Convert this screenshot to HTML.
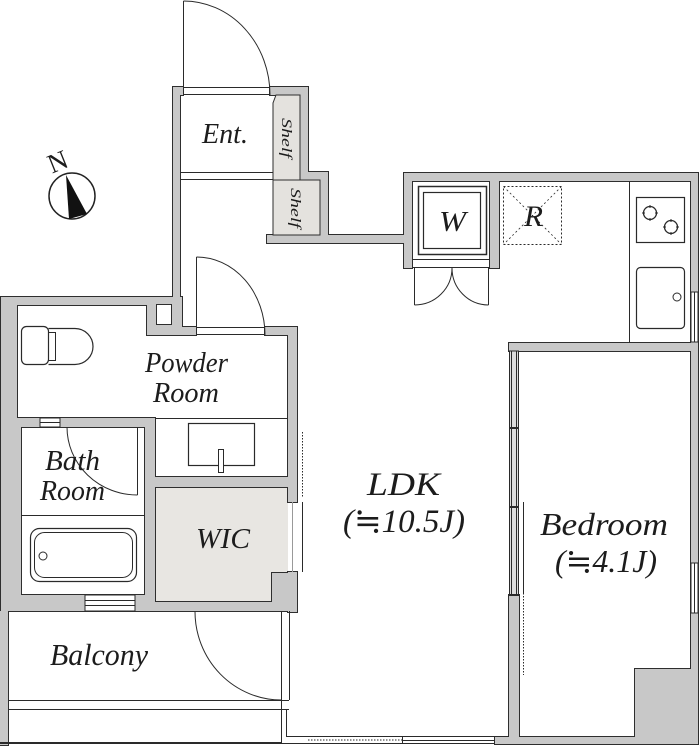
<!DOCTYPE html>
<html><head><meta charset="utf-8"><style>
html,body{margin:0;padding:0;background:#fff;}
svg{display:block;}
.t{font-family:"Liberation Serif","DejaVu Serif",serif;font-style:italic;fill:#1c1c1c;}
.n{font-family:"Liberation Serif","DejaVu Serif",serif;fill:#1c1c1c;}
</style></head><body>
<svg width="700" height="755" viewBox="0 0 700 755" xmlns="http://www.w3.org/2000/svg">
<defs>
<g id="w">
<rect x="173" y="87" width="10" height="8"/>
<rect x="270" y="87" width="38" height="8"/>
<rect x="173" y="87" width="7" height="218"/>
<rect x="300" y="87" width="8" height="93"/>
<rect x="300" y="172" width="28" height="8"/>
<rect x="320" y="172" width="8" height="71"/>
<rect x="267" y="235" width="145" height="8"/>
<rect x="404" y="173" width="8" height="95"/>
<rect x="490" y="173" width="9" height="95"/>
<rect x="404" y="173" width="294" height="8"/>
<rect x="691" y="173" width="7" height="571"/>
<rect x="509" y="343" width="189" height="8"/>
<rect x="509" y="595" width="10" height="149"/>
<rect x="495" y="737" width="203" height="7"/>
<rect x="635" y="669" width="63" height="75"/>
<rect x="1" y="297" width="179" height="8"/>
<rect x="147" y="297" width="35" height="38"/>
<rect x="147" y="327" width="49" height="8"/>
<rect x="265" y="327" width="32" height="8"/>
<rect x="288" y="327" width="9" height="175"/>
<rect x="288" y="572" width="9" height="40"/>
<rect x="1" y="297" width="16" height="314"/>
<rect x="1" y="418" width="20" height="193"/>
<rect x="1" y="418" width="154" height="9"/>
<rect x="145" y="418" width="10" height="193"/>
<rect x="145" y="477" width="152" height="10"/>
<rect x="145" y="602" width="152" height="9"/>
<rect x="272" y="573" width="25" height="38"/>
<rect x="1" y="595" width="154" height="16"/>
<rect x="0" y="611" width="8" height="134"/>
</g>
</defs>

<!-- room fills -->
<polygon points="155,487 288,487 288,573 272,573 272,602 155,602" fill="#e8e6e2"/>

<!-- walls -->
<use href="#w" fill="none" stroke="#2e2e2e" stroke-width="2"/>
<use href="#w" fill="#c8c8c8"/>

<!-- shelves -->
<polygon points="276,95 300,95 300,180 273,180 273,103" fill="#e4e2de" stroke="#2e2e2e" stroke-width="1"/>
<rect x="273" y="180" width="47" height="55" fill="#e4e2de" stroke="#2e2e2e" stroke-width="1"/>

<!-- shaft hole -->
<rect x="156.5" y="304.5" width="15" height="20" fill="#fff" stroke="#2e2e2e" stroke-width="1"/>

<g stroke="#2a2a2a" stroke-width="1" fill="none">
<!-- Ent door -->
<line x1="183" y1="87.5" x2="270" y2="87.5"/>
<line x1="183" y1="94.5" x2="270" y2="94.5"/>
<line x1="183.5" y1="95" x2="183.5" y2="1"/>
<path d="M183.5,1 A86.5 94 0 0 1 270,95"/>
<!-- Ent step -->
<line x1="180" y1="172.5" x2="273" y2="172.5"/>
<line x1="180" y1="179.5" x2="273" y2="179.5"/>

<!-- powder door -->
<line x1="196" y1="327.5" x2="265" y2="327.5"/>
<line x1="196" y1="334.5" x2="265" y2="334.5"/>
<line x1="196.5" y1="335" x2="196.5" y2="257"/>
<path d="M196.5,257 A68.5 78 0 0 1 265,335"/>

<!-- W closet door -->
<line x1="412" y1="259.5" x2="490" y2="259.5"/>
<line x1="412" y1="267.5" x2="490" y2="267.5"/>
<line x1="414.5" y1="268" x2="414.5" y2="305"/>
<path d="M414.5,305 A37.5 37 0 0 0 452,268"/>
<line x1="488.5" y1="268" x2="488.5" y2="305"/>
<path d="M488.5,305 A36.5 37 0 0 1 452,268"/>

<!-- washer -->
<rect x="418.5" y="186.5" width="68" height="68" stroke-width="1.5"/>
<rect x="423.5" y="192.5" width="57" height="56" stroke-width="1.2"/>

<!-- fridge -->
<rect x="503.5" y="186.5" width="58" height="58" stroke-dasharray="2,2"/>
<line x1="503.5" y1="186.5" x2="561.5" y2="244.5" stroke-dasharray="2,2.5" stroke-width="0.8"/>
<line x1="561.5" y1="186.5" x2="503.5" y2="244.5" stroke-dasharray="2,2.5" stroke-width="0.8"/>

<!-- kitchen counter -->
<line x1="629.5" y1="181" x2="629.5" y2="343"/>
<rect x="636.5" y="197.5" width="48" height="45" stroke-width="1.2"/>
<circle cx="650" cy="213" r="6.5" stroke-width="1.3"/>
<circle cx="671" cy="227" r="6.5" stroke-width="1.3"/>
<line x1="650" y1="205" x2="650" y2="208"/><line x1="650" y1="218" x2="650" y2="221"/>
<line x1="642" y1="213" x2="645" y2="213"/><line x1="655" y1="213" x2="658" y2="213"/>
<line x1="671" y1="219" x2="671" y2="222"/><line x1="671" y1="232" x2="671" y2="235"/>
<line x1="663" y1="227" x2="666" y2="227"/><line x1="676" y1="227" x2="679" y2="227"/>
<rect x="636.5" y="267.5" width="48" height="61" rx="4" stroke-width="1.2"/>
<circle cx="677" cy="297" r="4"/>

<!-- right wall windows -->
<rect x="691" y="292" width="7" height="50" fill="#fff"/>
<line x1="694.5" y1="292" x2="694.5" y2="342"/>
<rect x="691" y="563" width="7" height="50" fill="#fff"/>
<line x1="694.5" y1="563" x2="694.5" y2="613"/>

<!-- bedroom left sliding wall -->
<rect x="509.5" y="351" width="9" height="244" fill="#dcdcdc"/>
<line x1="511.5" y1="351" x2="511.5" y2="595"/>
<line x1="516.5" y1="351" x2="516.5" y2="595"/>
<line x1="509" y1="428" x2="519" y2="428" stroke-width="2"/>
<line x1="509" y1="507" x2="519" y2="507" stroke-width="2"/>
<line x1="509" y1="595" x2="519" y2="595" stroke-width="2"/>
<line x1="523.5" y1="502" x2="523.5" y2="593"/>
<line x1="523.5" y1="593" x2="523.5" y2="675" stroke-dasharray="1.5,1.5"/>

<!-- LDK left sliding door -->
<line x1="302.5" y1="502" x2="302.5" y2="572"/>
<line x1="302.5" y1="432" x2="302.5" y2="498" stroke-dasharray="1.5,1.5"/>
<line x1="292.5" y1="502" x2="292.5" y2="572" stroke="#999"/>

<!-- powder/bath window -->
<rect x="40" y="418" width="20" height="9" fill="#fff"/>
<line x1="40" y1="422.5" x2="60" y2="422.5"/>
<!-- bath bottom window -->
<rect x="85" y="595" width="50" height="16" fill="#fff"/>
<line x1="85" y1="600.5" x2="135" y2="600.5"/>
<line x1="85" y1="605.5" x2="135" y2="605.5"/>

<!-- vanity -->
<line x1="155" y1="418.5" x2="288" y2="418.5"/>
<rect x="188.5" y="423.5" width="66" height="42" stroke-width="1.2"/>
<rect x="218.5" y="449.5" width="5" height="23" fill="#fff"/>

<!-- bath -->
<line x1="21" y1="515.5" x2="145" y2="515.5"/>
<line x1="137.5" y1="427" x2="137.5" y2="495"/>
<path d="M67,427 A70.5 68 0 0 0 137.5,495"/>
<rect x="30.5" y="528.5" width="106" height="53" rx="9" stroke-width="1.2"/>
<rect x="34.5" y="532.5" width="98" height="45" rx="10"/>
<circle cx="43" cy="556" r="4"/>

<!-- toilet -->
<rect x="21.5" y="326.5" width="27" height="38" rx="5" stroke-width="1.2"/>
<path d="M48.5,328.5 L75,328.5 A18 18 0 0 1 75,364.5 L48.5,364.5" stroke-width="1.2"/>
<path d="M48.5,332.5 L55.5,332.5 L55.5,360.5 L48.5,360.5"/>

<!-- balcony -->
<line x1="8" y1="700.5" x2="289" y2="700.5"/>
<line x1="8" y1="709.5" x2="289" y2="709.5"/>
<line x1="0" y1="743" x2="281" y2="743" stroke-width="2"/>
<line x1="281.5" y1="611" x2="281.5" y2="744"/>
<line x1="289.5" y1="611" x2="289.5" y2="700"/>
<line x1="286.5" y1="710" x2="286.5" y2="736.5"/>
<path d="M195,611.5 A86.5 88.5 0 0 0 281.5,700"/>

<!-- LDK bottom -->
<line x1="286" y1="736.5" x2="509" y2="736.5"/>
<line x1="281" y1="743.5" x2="495" y2="743.5"/>
<line x1="308" y1="740" x2="402" y2="740" stroke-dasharray="1.5,1.5"/>
<line x1="402" y1="740.5" x2="495" y2="740.5"/>
<line x1="402.5" y1="736.5" x2="402.5" y2="743.5"/>
</g>

<!-- compass -->
<circle cx="72" cy="196" r="23" fill="#fff" stroke="#222" stroke-width="1.5"/>
<polygon points="66,175 69,219 87,214" fill="#111"/>
<text class="n" transform="translate(61,170) rotate(-22)" text-anchor="middle" font-size="27">N</text>

<!-- labels -->
<text class="t" x="202" y="143" font-size="29" textLength="46" lengthAdjust="spacingAndGlyphs">Ent.</text>
<text class="t" transform="translate(287,138) rotate(90)" x="0" y="5" text-anchor="middle" font-size="15" textLength="40" lengthAdjust="spacingAndGlyphs">Shelf</text>
<text class="t" transform="translate(296,208) rotate(90)" x="0" y="5" text-anchor="middle" font-size="15" textLength="40" lengthAdjust="spacingAndGlyphs">Shelf</text>
<text class="t" x="439" y="231" font-size="29" textLength="27" lengthAdjust="spacingAndGlyphs">W</text>
<text class="t" x="524" y="226" font-size="30" textLength="19" lengthAdjust="spacingAndGlyphs">R</text>
<text class="t" x="145" y="372" font-size="29" textLength="83" lengthAdjust="spacingAndGlyphs">Powder</text>
<text class="t" x="153" y="402" font-size="29" textLength="66" lengthAdjust="spacingAndGlyphs">Room</text>
<text class="t" x="45" y="470" font-size="29" textLength="55" lengthAdjust="spacingAndGlyphs">Bath</text>
<text class="t" x="40" y="500" font-size="29" textLength="65" lengthAdjust="spacingAndGlyphs">Room</text>
<text class="t" x="196" y="548" font-size="29" textLength="54" lengthAdjust="spacingAndGlyphs">WIC</text>
<text class="t" x="50" y="665" font-size="31" textLength="98" lengthAdjust="spacingAndGlyphs">Balcony</text>
<text class="t" x="367" y="495" font-size="33" textLength="73" lengthAdjust="spacingAndGlyphs">LDK</text>
<text class="t" x="343" y="532" font-size="33" textLength="122" lengthAdjust="spacingAndGlyphs">(≒10.5J)</text>
<text class="t" x="540" y="535" font-size="32" textLength="128" lengthAdjust="spacingAndGlyphs">Bedroom</text>
<text class="t" x="555" y="572" font-size="32" textLength="102" lengthAdjust="spacingAndGlyphs">(≒4.1J)</text>
</svg>
</body></html>
